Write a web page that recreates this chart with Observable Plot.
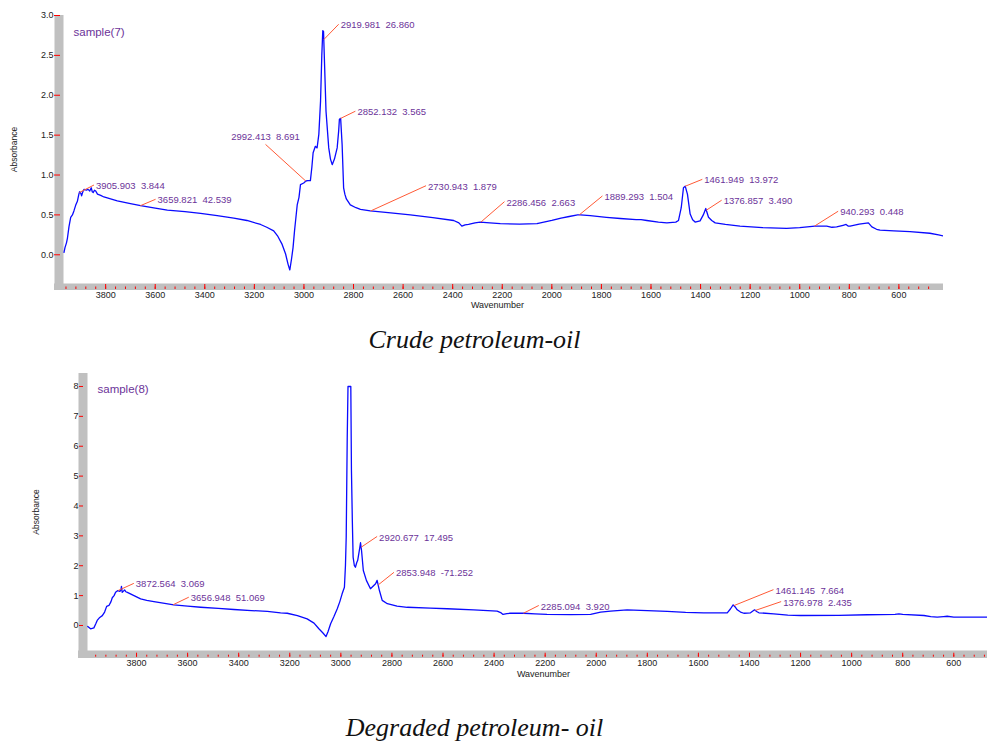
<!DOCTYPE html>
<html><head><meta charset="utf-8">
<script src="https://cdn.jsdelivr.net/npm/d3@7"></script>
<script src="https://cdn.jsdelivr.net/npm/@observablehq/plot@0.6"></script>
<style>
body{margin:0;background:#fff;}
#wrap{position:relative;width:987px;height:744px;overflow:hidden;background:#fff;}
.panel{position:absolute;left:0;}
.caption{position:absolute;left:0;width:949px;text-align:center;font-family:"Liberation Serif","Times New Roman",serif;font-style:italic;font-size:26px;line-height:30px;color:#111;white-space:nowrap;}
</style></head><body><div id="wrap"></div><script>
// ---------- Crude petroleum-oil : sample(7) ----------
const crudeWn = [3968,3964,3958,3954,3948,3941,3934,3928,3921,3914,3908,3905,3900,3897,3892,3887,3878,3871,3864,3858,3854,3850,3845,3840,3833,3820,3807,3780,3753,3700,3659,3600,3551,3480,3417,3350,3283,3230,3175,3150,3122,3105,3088,3074,3064,3057,3050,3044,3038,3034,3027,3020,3014,3001,2992,2985,2974,2968,2963,2954,2947,2940,2933,2928,2924,2921,2917,2911,2900,2893,2886,2877,2866,2860,2857,2852,2846,2840,2835,2829,2813,2790,2772,2732,2650,2571,2480,2396,2375,2363,2350,2336,2310,2289,2250,2208,2130,2060,2000,1963,1930,1896,1885,1845,1780,1724,1660,1640,1617,1570,1536,1500,1489,1478,1469,1462,1453,1442,1432,1422,1402,1389,1379,1368,1355,1341,1300,1241,1150,1053,1000,939,891,870,851,825,813,805,797,760,723,709,690,676,620,555,475,440,414];
const crudeAbs = [0.03,0.09,0.15,0.21,0.35,0.47,0.50,0.55,0.62,0.67,0.76,0.79,0.77,0.74,0.79,0.82,0.81,0.82,0.80,0.84,0.79,0.78,0.81,0.80,0.76,0.745,0.725,0.70,0.675,0.64,0.615,0.585,0.56,0.54,0.52,0.49,0.46,0.43,0.38,0.345,0.30,0.23,0.13,0.01,-0.12,-0.19,-0.05,0.09,0.30,0.42,0.63,0.72,0.88,0.90,0.925,0.93,0.93,1.10,1.28,1.36,1.34,1.51,1.93,2.50,2.81,2.80,2.40,1.80,1.34,1.20,1.13,1.20,1.34,1.55,1.70,1.71,1.38,0.84,0.76,0.70,0.625,0.59,0.57,0.55,0.525,0.50,0.465,0.43,0.40,0.36,0.375,0.38,0.40,0.41,0.40,0.39,0.385,0.39,0.43,0.46,0.48,0.50,0.50,0.49,0.47,0.455,0.44,0.44,0.43,0.41,0.40,0.41,0.43,0.59,0.84,0.86,0.76,0.51,0.44,0.41,0.425,0.50,0.58,0.47,0.43,0.40,0.38,0.36,0.34,0.33,0.34,0.36,0.36,0.345,0.35,0.37,0.38,0.36,0.36,0.385,0.40,0.35,0.32,0.31,0.30,0.29,0.27,0.25,0.23];
const crudePeakWn = [3905.903,3659.821,2992.413,2919.981,2852.132,2730.943,2286.456,1889.293,1461.949,1376.857,940.293];
const crudePeakVal = [3.844,42.539,8.691,26.860,3.565,1.879,2.663,1.504,13.972,3.490,0.448];
const crudeLabelWn = [3847,3598.5,3155,2860,2792.5,2507.5,2191,1796,1393,1315,845];
const crudeLabelAbs = [0.875,0.696,1.384,2.89,1.80,0.866,0.666,0.7375,0.946,0.684,0.546];
const crudeYTicks = [0,0.5,1.0,1.5,2.0,2.5,3.0];

// ---------- Degraded petroleum-oil : sample(8) ----------
const degWn = [3991,3980,3967,3960,3954,3944,3934,3925,3917,3908,3900,3895,3888,3882,3873,3865,3861,3859,3856,3851,3847,3842,3836,3822,3810,3784,3760,3732,3690,3654,3600,3549,3480,3419,3350,3288,3236,3210,3170,3132,3105,3086,3070,3058,3050,3040,3027,3014,3004,2995,2986,2982,2979,2975,2972,2961,2958.5,2955,2952,2947,2943,2938,2934,2926,2923,2919,2912,2900,2884,2871,2864,2858,2849,2838,2818,2780,2740,2650,2583,2480,2388,2372,2365,2350,2336,2284,2240,2193,2100,2022,1983,1944,1879,1800,1722,1650,1579,1487,1474,1464,1456,1448,1435,1422,1396,1380,1372,1363,1305,1250,1200,1050,939,830,815,800,717,690,665,640,626,600,469];
const degAbs = [-0.03,-0.11,-0.08,0.05,0.17,0.27,0.33,0.45,0.64,0.67,0.80,0.93,1.00,1.11,1.17,1.14,1.20,1.31,1.11,1.15,1.19,1.13,1.11,1.05,1.00,0.89,0.84,0.80,0.74,0.69,0.645,0.61,0.57,0.535,0.50,0.47,0.42,0.41,0.33,0.22,0.08,-0.11,-0.25,-0.37,-0.20,0.06,0.30,0.56,0.80,1.06,1.28,2.00,2.96,6.30,8.0,8.0,5.19,3.50,2.29,2.00,1.95,2.10,2.18,2.60,2.77,2.51,1.84,1.51,1.23,1.34,1.40,1.51,1.17,0.84,0.73,0.65,0.61,0.58,0.56,0.52,0.48,0.42,0.37,0.40,0.41,0.41,0.39,0.37,0.365,0.37,0.445,0.48,0.525,0.50,0.47,0.44,0.425,0.425,0.56,0.69,0.62,0.525,0.45,0.41,0.425,0.525,0.47,0.425,0.39,0.35,0.335,0.34,0.36,0.37,0.39,0.37,0.335,0.30,0.28,0.30,0.31,0.28,0.28];
const degPeakWn = [3872.564,3656.948,2920.677,2853.948,2285.094,1461.145,1376.978];
const degPeakVal = [3.069,51.069,17.495,-71.252,3.920,7.664,2.435];
const degLabelWn = [3810.6,3595.4,2858,2792,2225,1306,1276];
const degLabelAbs = [1.41,0.947,2.98,1.78,0.67,1.20,0.80];
const degYTicks = [0,1,2,3,4,5,6,7,8];

const majorXTicks = d3.range(3800, 599, -200);
const minorXTicks = d3.range(3960, 479, -40);

const BLUE = "#0a0aff", LEAD = "#ff5a36", PURPLE = "#6c3399", GRAY = "#c0c0c0", RED = "#ff0000";
const fmt3 = v => d3.format(".3f")(v).replace("\u2212", "-");

function interp(wn, ab, w) {
  for (let i = 0; i < wn.length - 1; i++) {
    const a = wn[i], b = wn[i + 1];
    if ((w <= a && w >= b)) { const t = (a - w) / (a - b); return ab[i] + t * (ab[i + 1] - ab[i]); }
  }
  return ab[ab.length - 1];
}

function panel(o) {
  const spec = o.wn.map((w, i) => ({wn: w, abs: o.ab[i]}));
  const labels = o.peakWn.map((w, i) => ({
    wn: w, abs: interp(o.wn, o.ab, w), lx: o.labelWn[i], ly: o.labelAbs[i],
    text: fmt3(w) + "\u00a0\u00a0" + fmt3(o.peakVal[i])
  }));
  const right = labels.filter(d => d.lx < d.wn), above = labels.filter(d => d.lx >= d.wn);
  return Plot.plot({
    width: 987, height: o.height,
    marginLeft: o.mL, marginRight: o.mR, marginTop: o.mT, marginBottom: o.mB,
    style: {fontFamily: "'Liberation Sans', Arial, sans-serif", background: "transparent", overflow: "visible"},
    x: {domain: o.xDomain},
    y: {domain: o.yDomain},
    marks: [
      Plot.ruleX([o.xDomain[0]], {stroke: GRAY, strokeWidth: o.barW, dx: -o.barW / 2, insetBottom: -o.barH}),
      Plot.ruleY([o.yDomain[0]], {stroke: GRAY, strokeWidth: o.barH, dy: o.barH / 2, insetLeft: -o.barW}),
      Plot.axisY({ticks: o.yTicks, tickFormat: o.yFmt, tickSize: o.yTick, dx: -o.yOff, stroke: RED, tickPadding: 1, fontSize: 9, fill: "#222", label: null}),
      Plot.axisX({ticks: minorXTicks, tickSize: o.minT, dy: o.minDy, stroke: RED, fill: "none", label: null}),
      Plot.axisX({ticks: majorXTicks, tickSize: o.majT, dy: o.majDy, stroke: RED, tickPadding: o.xPad, fontSize: 9, fill: "#222", tickFormat: d3.format("d"), label: null}),
      Plot.line(spec, {x: "wn", y: "abs", stroke: BLUE, strokeWidth: 1.3, clip: true}),
      Plot.link(labels, {x1: "wn", y1: "abs", x2: "lx", y2: "ly", stroke: LEAD, strokeWidth: 1}),
      Plot.text(right, {x: "lx", y: "ly", text: "text", textAnchor: "start", lineAnchor: "middle", dx: 2, dy: 1, fill: PURPLE, fontSize: 9.5}),
      Plot.text(above, {x: "lx", y: "ly", text: "text", textAnchor: "middle", lineAnchor: "bottom", dy: -4, fill: PURPLE, fontSize: 9.5}),
      Plot.text([o.sample], {frameAnchor: "top-left", dx: 10, dy: o.sampleDy, textAnchor: "start", lineAnchor: "middle", fill: PURPLE, fontSize: 11.5}),
      Plot.text(["Absorbance"], {frameAnchor: "left", dx: o.absDx, rotate: -90, textAnchor: "middle", lineAnchor: "middle", fill: "#222", fontSize: 8.5}),
      Plot.text(["Wavenumber"], {frameAnchor: "bottom", dx: o.wavDx, dy: o.wavDy, textAnchor: "middle", lineAnchor: "middle", fill: "#222", fontSize: 9})
    ]
  });
}

const wrap = document.getElementById("wrap");
function place(node, y) { node.classList.add("panel"); node.style.top = y + "px"; wrap.appendChild(node); }

const crudeChart = panel({
  wn: crudeWn, ab: crudeAbs, peakWn: crudePeakWn, peakVal: crudePeakVal, labelWn: crudeLabelWn, labelAbs: crudeLabelAbs,
  yTicks: crudeYTicks, yFmt: d3.format(".1f"), xDomain: [3970, 420], yDomain: [-0.36, 3.0],
  height: 312, mL: 63, mR: 44, mT: 15, mB: 29, barW: 9, barH: 6.5,
  yTick: 6, yOff: 3, minT: 2.5, minDy: 3.5, majT: 5, majDy: 1, xPad: 2,
  sample: "sample(7)", sampleDy: 17, absDx: -49, wavDx: -6, wavDy: 22
});
place(crudeChart, 0);

const cap1 = document.createElement("div");
cap1.className = "caption"; cap1.style.top = "325px"; cap1.textContent = "Crude petroleum-oil";
wrap.appendChild(cap1);

const degChart = panel({
  wn: degWn, ab: degAbs, peakWn: degPeakWn, peakVal: degPeakVal, labelWn: degLabelWn, labelAbs: degLabelAbs,
  yTicks: degYTicks, yFmt: d3.format("d"), xDomain: [3992, 468], yDomain: [-0.837, 8.435],
  height: 325, mL: 87, mR: 0, mT: 13, mB: 35, barW: 9, barH: 7.5,
  yTick: 4, yOff: 4, minT: 2, minDy: 4.7, majT: 4, majDy: 2.7, xPad: 2.5,
  sample: "sample(8)", sampleDy: 16, absDx: -51, wavDx: 6, wavDy: 24
});
place(degChart, 360);

const cap2 = document.createElement("div");
cap2.className = "caption"; cap2.style.top = "713px"; cap2.textContent = "Degraded petroleum- oil";
wrap.appendChild(cap2);
</script></body></html>
